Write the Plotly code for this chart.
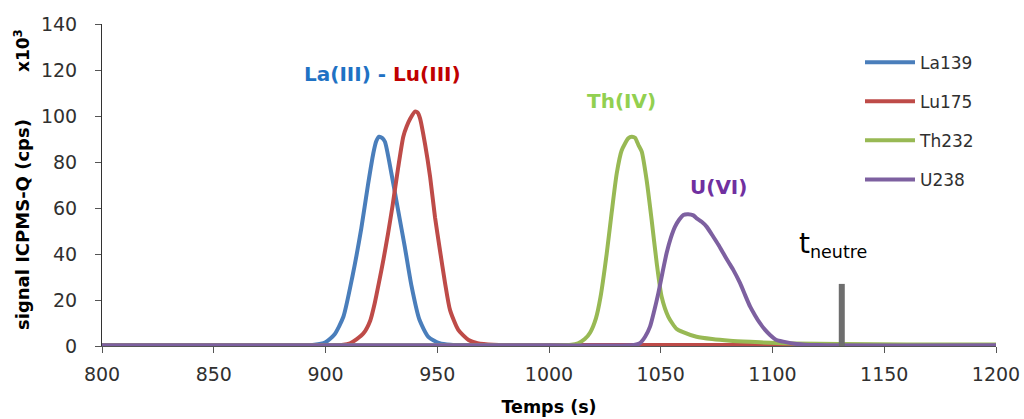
import plotly.graph_objects as go

# ---- data (time in s, signal in x10^3 cps) ----
la_t = [800, 850, 895, 900, 904, 908, 912, 916, 919, 921.4, 922.7, 924, 925.3, 926.6, 929.5,
        932.5, 935.5, 938.5, 942, 946, 951, 956, 965, 1000, 1100, 1200]
la_y = [0.3, 0.3, 0.5, 1.6, 5, 12.7, 30, 51, 70, 83.8, 89, 91, 90.5, 88.8, 75,
        59, 43, 26, 11.5, 4, 1.2, 0.5, 0.3, 0.3, 0.3, 0.3]

lu_t = [800, 900, 908, 911, 914, 917, 920, 922, 924, 926, 928, 930, 932.5, 934.8,
        936.3, 938, 940, 941.2, 942.3, 944.5, 946.8, 949, 951.2, 953.5, 955.7, 959.4,
        964, 968, 975, 1000, 1100, 1200]
lu_y = [0.3, 0.3, 0.5, 1.2, 3, 5.5, 11, 18.5, 28, 38, 49, 61, 77.5, 91,
        95.4, 99, 101.9, 101.5, 99, 88, 73.6, 56, 41.7, 27.3, 15.7, 7,
        2.6, 1.2, 0.5, 0.4, 0.4, 0.4]

th_t = [800, 1000, 1010, 1013, 1016, 1018.5, 1021, 1023, 1025.8, 1028, 1030.3, 1032.5,
        1035.5, 1037, 1038.5, 1039.3, 1040, 1041.5, 1043.7, 1045.9, 1048.2, 1050.4,
        1053.4, 1057, 1060, 1066, 1073, 1081, 1090, 1099, 1110, 1130, 1160, 1200]
th_y = [0.3, 0.3, 0.5, 1.2, 3, 6, 12, 21, 40, 57.7, 75, 85,
        90.3, 91, 90.5, 89, 87.4, 84.5, 72, 55, 36, 21.4,
        12.7, 7.5, 6, 4, 3, 2.3, 1.8, 1.4, 1.1, 0.9, 0.7, 0.6]

u_t = [800, 1000, 1038, 1040.7, 1043, 1045.2, 1047, 1048.9, 1050.8, 1052.6, 1054.5,
       1056.4, 1058.3, 1060.1, 1062.3, 1064.6, 1066.1, 1068.3, 1070.5, 1073.5, 1075.8,
       1078, 1080.3, 1082.5, 1085.5, 1087.8, 1090, 1092.2, 1094.4, 1096.7, 1098.9,
       1101.8, 1104.8, 1110.8, 1120, 1200]
u_y = [0.3, 0.3, 0.4, 1.2, 4, 8.4, 15, 22.9, 32, 40.3, 47,
       51.9, 55, 57, 57.3, 56.8, 55.5, 54, 51.9, 47.5, 44,
       40.3, 36.5, 33, 27.3, 22, 17.1, 13.3, 9.9, 7, 4.8,
       2.6, 1.9, 0.9, 0.4, 0.3]

series = [
    ("La139", la_t, la_y, "#4A7EBB"),
    ("Lu175", lu_t, lu_y, "#BE4B48"),
    ("Th232", th_t, th_y, "#98B954"),
    ("U238", u_t, u_y, "#7D60A0"),
]

t_neutre = 1131
t_neutre_bar = [-2.5, 27]

x_ticks = [800, 850, 900, 950, 1000, 1050, 1100, 1150, 1200]
y_ticks = [0, 20, 40, 60, 80, 100, 120, 140]

FONT = "DejaVu Sans"
TXT = "#303030"

fig = go.Figure()
for name, t, y, c in series:
    fig.add_trace(go.Scatter(x=t, y=y, mode="lines", name=name, legendgroup=name,
                             line=dict(color=c, width=4, shape="spline", smoothing=0.6)))

fig.add_trace(go.Scatter(x=[t_neutre, t_neutre], y=t_neutre_bar, mode="lines",
                         line=dict(color="#6E6E6E", width=6), showlegend=False,
                         hoverinfo="skip"))

# plot area in pixels
pl, pr, pt, pb = 102, 996, 24, 346

fig.update_layout(
    width=1024, height=419,
    margin=dict(l=pl, r=1024 - pr, t=pt, b=419 - pb, autoexpand=False),
    paper_bgcolor="white", plot_bgcolor="white",
    font=dict(family=FONT, color=TXT),
    legend=dict(x=(860 - pl) / (pr - pl), y=0.936, xanchor="left", yanchor="top",
                font=dict(size=17, family=FONT, color=TXT),
                tracegroupgap=14, itemwidth=50, bgcolor="rgba(0,0,0,0)"),
    xaxis=dict(range=[800, 1200], tickvals=x_ticks, ticks="outside", ticklen=6,
               tickcolor="#555", showline=True, linecolor="#555", linewidth=1,
               showgrid=False, zeroline=False, ticklabelposition="outside",
               ticklabelstandoff=5,
               tickfont=dict(size=19, family=FONT, color=TXT),
               title=dict(text="<b>Temps (s)</b>", font=dict(size=17.5, family=FONT, color="#000"),
                          standoff=16)),
    yaxis=dict(range=[0, 140], tickvals=y_ticks, ticks="outside", ticklen=6,
               tickcolor="#555", showline=True, linecolor="#333", linewidth=1,
               showgrid=False, zeroline=False, ticklabelposition="outside",
               ticklabelstandoff=14,
               tickfont=dict(size=19, family=FONT, color=TXT)),
    showlegend=True,
)


def px(xp):
    return (xp - pl) / (pr - pl)


def py(yp):
    return (pb - yp) / (pb - pt)


side = [
    (22, 225, "<b>signal ICPMS-Q (cps)</b>", 18),
    (22, 51, "<b>x10<sup>3</sup></b>", 17),
]
for xp, yp, txt, s in side:
    fig.add_annotation(x=px(xp), y=py(yp), xref="paper", yref="paper", text=txt,
                       showarrow=False, textangle=-90, xanchor="center", yanchor="middle",
                       font=dict(size=s, color="#000", family=FONT))

labels = [
    (382, 74, "<b><span style='color:#1F72C4'>La(III) - </span><span style='color:#C00000'>Lu(III)</span></b>"),
    (621, 101, "<b><span style='color:#92D050'>Th(IV)</span></b>"),
    (718, 187, "<b><span style='color:#7030A0'>U(VI)</span></b>"),
]
for xp, yp, txt in labels:
    fig.add_annotation(x=px(xp), y=py(yp), xref="paper", yref="paper", text=txt,
                       xanchor="center", yanchor="middle",
                       showarrow=False, font=dict(size=20, family=FONT))

fig.add_annotation(x=px(797), y=py(244), xref="paper", yref="paper", xanchor="left",
                   yanchor="middle",
                   text="<span style='font-size:28px'>t</span><sub>neutre</sub>",
                   showarrow=False, font=dict(size=25, family=FONT, color="#000"))

fig.write_html("out.html", config={"displayModeBar": False},
               post_script="document.body.style.margin='0';")
